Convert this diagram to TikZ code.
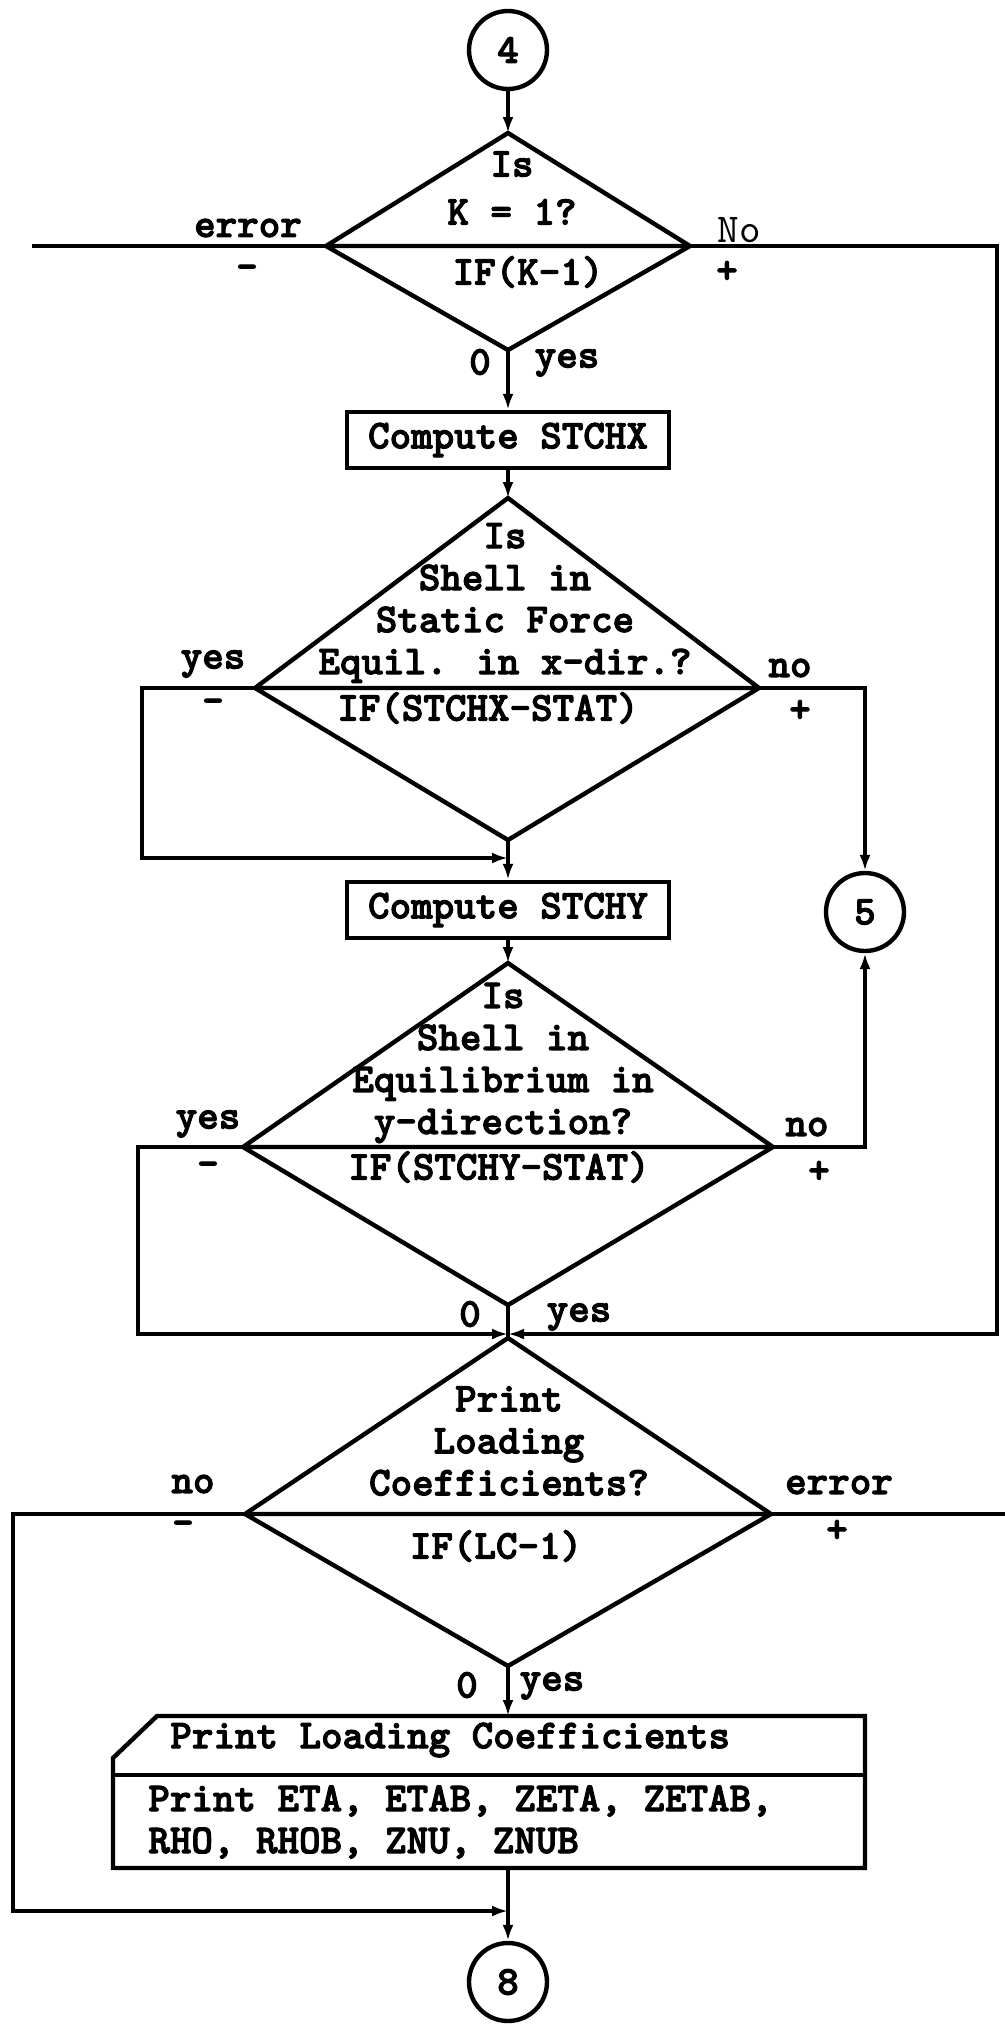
\documentclass[tikz,border=0pt]{standalone}
\usepackage{fontspec}
\newfontfamily\twfont{lmmonolt10-bold.otf}[FakeBold=2.5]
\newfontfamily\twthin{lmmono10-regular.otf}
\usetikzlibrary{arrows.meta}
\newcommand{\tw}{\fontsize{20.5}{21}\selectfont\twfont}
\tikzset{
  flow/.style={line width=2.2pt},
  arr/.style={flow, -{Latex[length=8pt,width=5.5pt]}},
  txt/.style={inner sep=0pt, font=\tw},
  qtxt/.style={txt, align=center},
  conn/.style={circle, draw, line width=2.2pt, minimum size=39pt, inner sep=0pt, font=\tw},
  procbox/.style={draw, line width=2.2pt, minimum width=161pt, minimum height=28pt, inner sep=0pt, font=\tw}
}

\begin{document}
\begin{tikzpicture}[x=0.5pt,y=-0.5pt]
        \useasboundingbox (0,0) rectangle (1005,2024);
        % connectors and process boxes
        \node[conn] (c4) at (508,50) {4};
        \node[conn] (c5) at (865,912) {5};
        \node[conn] (c8) at (508,1982) {8};
        \node[procbox] (stchx) at (508,440) {Compute STCHX};
        \node[procbox] (stchy) at (508,910) {Compute STCHY};
        % decision vertices
        \coordinate (d1t) at (508,133); \coordinate (d1l) at (326,246);
        \coordinate (d1r) at (690,246); \coordinate (d1b) at (508,350);
        \coordinate (d2t) at (508,498); \coordinate (d2l) at (255,688);
        \coordinate (d2r) at (759,688); \coordinate (d2b) at (508,840);
        \coordinate (d3t) at (508,963); \coordinate (d3l) at (243,1147);
        \coordinate (d3r) at (773,1147); \coordinate (d3b) at (508,1305);
        \coordinate (d4t) at (508,1338); \coordinate (d4l) at (245,1514);
        \coordinate (d4r) at (771,1514); \coordinate (d4b) at (508,1666);
        \coordinate (j1) at (508,858);
        \coordinate (j2) at (508,1334);
        \coordinate (j3) at (508,1911);
        \coordinate (err1) at (32,246);
        \coordinate (err2) at (1005,1514);
        \coordinate (pbt) at (508,1716);
        \coordinate (pbb) at (508,1868);
        % decisions
        \draw[flow] (d1t) -- (d1r) -- (d1b) -- (d1l) -- cycle (d1l) -- (d1r);
        \draw[flow] (d2t) -- (d2r) -- (d2b) -- (d2l) -- cycle (d2l) -- (d2r);
        \draw[flow] (d3t) -- (d3r) -- (d3b) -- (d3l) -- cycle (d3l) -- (d3r);
        \draw[flow] (d4t) -- (d4r) -- (d4b) -- (d4l) -- cycle (d4l) -- (d4r);
        % print box
        \draw[flow] (157,1716) -- (865,1716) -- (865,1868) -- (113,1868) -- (113,1758) -- cycle;
        \draw[flow] (113,1775) -- (865,1775);
        % texts in shapes
        \node[qtxt] (d1q) at (512,188) {Is\\[3pt]K = 1?};
        \node[txt] (d1if) at (528,272) {IF(K-1)};
        \node[qtxt] (d2q) at (505,603) {Is\\Shell in\\Static Force\\Equil. in x-dir.?};
        \node[txt] (d2if) at (488,708) {IF(STCHX-STAT)};
        \node[qtxt] (d3q) at (503,1063) {Is\\Shell in\\Equilibrium in\\y-direction?};
        \node[txt] (d3if) at (499,1167) {IF(STCHY-STAT)};
        \node[qtxt] (d4q) at (509,1441) {Print\\Loading\\Coefficients?};
        \node[txt] (d4if) at (496,1546) {IF(LC-1)};
        \node[txt, anchor=west] (pbhead) at (170,1740) {Print Loading Coefficients};
        \node[txt, anchor=west, align=left] (pbbody) at (148,1822) {Print ETA, ETAB, ZETA, ZETAB,\\RHO, RHOB, ZNU, ZNUB};
        % branch labels
        \node[txt] (l1a) at (248,228) {error};
        \node[txt, font=\fontsize{20.5}{21}\selectfont\twthin] (l1c) at (739,230) {No};
        \node[txt] (l1b) at (247,272) {-};
        \node[txt] (l1d) at (727,272) {+};
        \node[txt] (l1e) at (480,362) {0};
        \node[txt] (l1f) at (567,363) {yes};
        \node[txt] (l2a) at (213,664) {yes};
        \node[txt] (l2b) at (213,706) {-};
        \node[txt] (l2c) at (790,668) {no};
        \node[txt] (l2d) at (800,711) {+};
        \node[txt] (l3a) at (208,1124) {yes};
        \node[txt] (l3b) at (208,1169) {-};
        \node[txt] (l3c) at (807,1127) {no};
        \node[txt] (l3d) at (819,1172) {+};
        \node[txt] (l3e) at (470,1314) {0};
        \node[txt] (l3f) at (579,1317) {yes};
        \node[txt] (l4a) at (193,1484) {no};
        \node[txt] (l4b) at (183,1528) {-};
        \node[txt] (l4c) at (839,1485) {error};
        \node[txt] (l4d) at (837,1531) {+};
        \node[txt] (l4e) at (467,1685) {0};
        \node[txt] (l4f) at (552,1686) {yes};
        % flow lines
        \draw[arr] (c4) -- (d1t);
        \draw[arr] (d1b) -- (stchx);
        \draw[arr] (stchx) -- (d2t);
        \draw[flow] (d2b) -- (j1);
        \draw[arr] (d2l) -- ++(-113,0) |- (j1);
        \draw[arr] (j1) -- (stchy);
        \draw[arr] (d2r) -| (c5);
        \draw[arr] (stchy) -- (d3t);
        \draw[arr] (d3r) -| (c5);
        \draw[arr] (d3l) -- ++(-105,0) |- (j2);
        \draw[arr] (d1r) -- ++(307,0) |- (j2);
        \draw[flow] (d3b) -- (d4t);
        \draw[flow] (d1l) -- (err1);
        \draw[flow] (d4r) -- (err2);
        \draw[arr] (d4l) -- ++(-232,0) |- (j3);
        \draw[arr] (d4b) -- (pbt);
        \draw[arr] (pbb) -- (c8);
    \end{tikzpicture}
\end{document}
